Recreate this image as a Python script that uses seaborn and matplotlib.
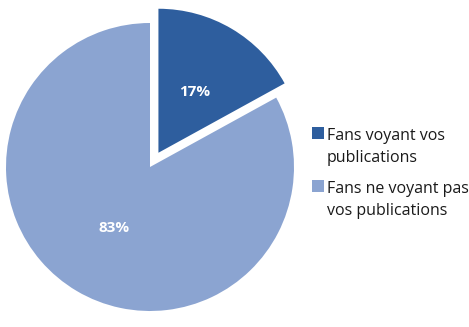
import matplotlib
matplotlib.use("Agg")
import matplotlib.pyplot as plt
import seaborn as sns
from matplotlib.patches import Rectangle

sns.set_theme(style="white")
plt.rcParams['font.family'] = ['Open Sans', 'DejaVu Sans']

categories = ["Fans voyant vos\npublications", "Fans ne voyant pas\nvos publications"]
values = [17, 83]
colors = ["#2E5E9E", "#8BA4D1"]

W, H = 469, 327
fig = plt.figure(figsize=(W / 100, H / 100), dpi=100)
fig.patch.set_facecolor("white")
ax = fig.add_axes([0, 0, 300 / W, 1])
ax.axis("off")

wedges, texts, autotexts = ax.pie(
    values, colors=colors, startangle=90, counterclock=False,
    explode=[0.115, 0], radius=1.0, autopct="%d%%", pctdistance=0.49,
    wedgeprops=dict(linewidth=0),
    textprops=dict(color="white", fontsize=11, fontweight="bold"))
ax.set_xlim(-150 / 144, 150 / 144)
ax.set_ylim(-160 / 144, 167 / 144)
ax.set_aspect("auto")

# legend drawn manually so the marker aligns with the first text line
entry_top = [127, 180]
line_step = 22
for label, color, top in zip(categories, colors, entry_top):
    fig.patches.append(Rectangle((312 / W, 1 - (top + 12) / H), 12 / W, 12 / H,
                                 transform=fig.transFigure, facecolor=color,
                                 edgecolor="none"))
    for i, line in enumerate(label.split("\n")):
        fig.text(327 / W, 1 - (top + 13 + i * line_step) / H, line,
                 fontsize=11.5, color="#1a1a1a", va="baseline", ha="left")

fig.savefig("out.png", dpi=100)
